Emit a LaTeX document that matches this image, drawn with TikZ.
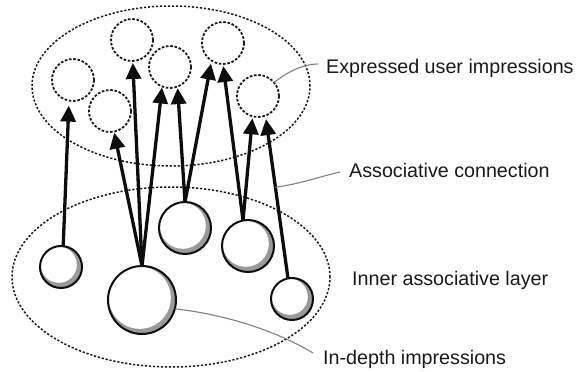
\documentclass[tikz,border=0pt]{standalone}
\usepackage{fontspec}
\setmainfont{Liberation Sans}
\usetikzlibrary{arrows.meta}
\begin{document}
\begin{tikzpicture}[x=1pt,y=-1pt,
  layer/.style={draw=black!90, line width=1.5pt, dash pattern=on 2.2pt off 1.8pt},
  outcircle/.style={circle, draw=black!90, line width=1.8pt, dash pattern=on 2.6pt off 1.7pt,
                    minimum size=42pt, inner sep=0pt, outer sep=0pt},
  incircle/.style={circle, draw=black!95, line width=2pt, minimum size=#1,
                   inner sep=0pt, outer sep=0pt},
  arr/.style={draw=black!95, line width=3.3pt, -{Triangle[length=16pt,width=15pt]}},
  leader/.style={draw=black!50, line width=1.1pt},
  lbl/.style={font=\fontsize{19.7}{22}\selectfont, text=black!90, anchor=base west, inner sep=0pt},
]
\useasboundingbox (0,0) rectangle (582,372);

% the two associative layers
\draw[layer] (171,86) ellipse [x radius=139pt, y radius=80pt];
\draw[layer] (171,277) ellipse [x radius=159pt, y radius=90pt];

% expressed impressions (upper layer)
\node[outcircle] (u1) at (73,80) {};
\node[outcircle] (u2) at (132,40) {};
\node[outcircle] (u3) at (110,111) {};
\node[outcircle] (u4) at (170,67) {};
\node[outcircle] (u5) at (223,43) {};
\node[outcircle] (u6) at (258,96) {};

% soft crescent shading of the in-depth impressions
\foreach \cx/\cy/\r in {61/267/21, 142/300/34, 185/228/26, 248/246/26, 292/299/21}{
  \pgfmathsetmacro{\ro}{\r-0.5}
  \pgfmathsetmacro{\ri}{\r-3}
  \fill[black!40] (\cx,\cy) circle (\ro pt);
  \fill[white] (\cx-2.2,\cy-2.2) circle (\ri pt);
}
\node[incircle=42pt] (a) at (61,267) {};
\node[incircle=68pt] (b) at (142,300) {};
\node[incircle=52pt] (c) at (185,228) {};
\node[incircle=52pt] (d) at (248,246) {};
\node[incircle=42pt] (e) at (292,299) {};

% associative connections
\draw[arr, shorten >=5pt] (a.84) -- (u1.-101);
\draw[arr, shorten >=1pt] (b.north) -- (u3.-79);
\draw[arr, shorten >=2pt] (b.north) -- (u2.-88);
\draw[arr, shorten >=1pt] (b.north) -- (u4.-112);
\draw[arr, shorten >=1.5pt] (c.north) -- (u4.-69);
\draw[arr, shorten >=3pt] (c.north) -- (u5.-123);
\draw[arr, shorten >=2pt] (d.101) -- (u5.-90);
\draw[arr, shorten >=2pt] (d.101) -- (u6.-105);
\draw[arr, shorten >=3.5pt] (e.101) -- node[coordinate, pos=0.56] (ep) {} (u6.-69);

% labels with leader lines
\node[lbl] (t1) at (326,73) {Expressed user impressions};
\node[lbl] (t2) at (349,177) {Associative connection};
\node[lbl] (t3) at (352,285) {Inner associative layer};
\node[lbl] (t4) at (323,364) {In-depth impressions};

\draw[leader] (u6.40) .. controls (290,70) and (305,64) .. ([xshift=-8pt,yshift=9pt]t1.base west);
\draw[leader] (ep) .. controls (300,184) and (322,176) .. ([xshift=-9pt,yshift=5pt]t2.base west);
\draw[leader] (b.-15) .. controls (230,315) and (280,333) .. ([xshift=-10pt,yshift=11pt]t4.base west);
\end{tikzpicture}
\end{document}
